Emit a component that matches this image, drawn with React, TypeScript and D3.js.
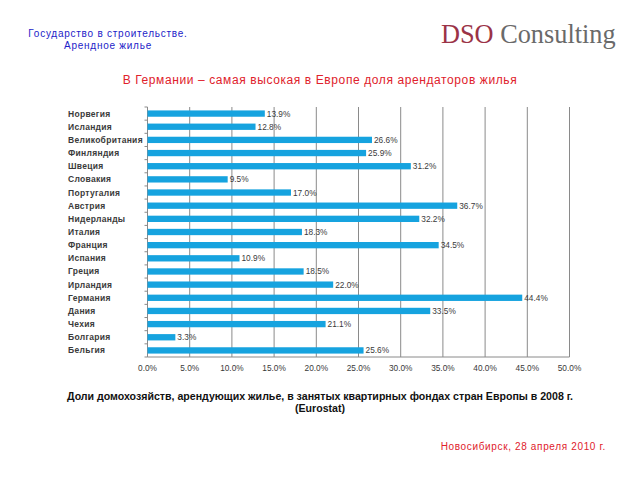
import React from "react";
import * as d3 from "d3";

const countries = [
  "Норвегия", "Исландия", "Великобритания", "Финляндия", "Швеция", "Словакия",
  "Португалия", "Австрия", "Нидерланды", "Италия", "Франция", "Испания",
  "Греция", "Ирландия", "Германия", "Дания", "Чехия", "Болгария", "Бельгия",
];
const values = [13.9, 12.8, 26.6, 25.9, 31.2, 9.5, 17.0, 36.7, 32.2, 18.3, 34.5, 10.9, 18.5, 22.0, 44.4, 33.5, 21.1, 3.3, 25.6];
const xTicks = [0, 5, 10, 15, 20, 25, 30, 35, 40, 45, 50];

const headerLines = ["Государство в строительстве.", "Арендное жилье"];
const title = "В Германии – самая высокая в Европе доля арендаторов жилья";
const captionLines = [
  "Доли домохозяйств, арендующих жилье, в занятых квартирных фондах стран Европы в 2008 г.",
  "(Eurostat)",
];
const footer = "Новосибирск, 28 апреля 2010 г.";

export default function App() {
  const W = 640, H = 480;
  const left = 147.5, right = 569.5, top = 107, bottom = 357;
  const x = d3.scaleLinear().domain([0, 50]).range([left, right]);
  const y = d3.scaleBand<string>().domain(countries).range([top, bottom]).paddingInner(0.52).paddingOuter(0.26);
  const band = d3.scaleBand<string>().domain(countries).range([top, bottom]);
  const font = "Liberation Sans, Arial, sans-serif";
  return (
    <svg width={W} height={H} style={{ position: "absolute", left: 0, top: 0, background: "#fff" }}>
      <g fontFamily={font} fill="#1c1cc8" fontSize={10} letterSpacing={0.75} textAnchor="middle">
        {headerLines.map((t, i) => (
          <text key={i} x={108} y={36.5 + i * 12}>{t}</text>
        ))}
      </g>
      <text x={441} y={43} fontFamily="Liberation Serif, Times New Roman, serif" fontSize={26.3}>
        <tspan fill="#9b3347">DSO</tspan>
        <tspan fill="#6a6a6a"> Consulting</tspan>
      </text>
      <text x={320} y={84} textAnchor="middle" fontFamily={font} fontSize={12} letterSpacing={0.6} fill="#e0212b">{title}</text>

      {/* gridlines */}
      {xTicks.slice(1).map((t) => (
        <line key={t} x1={x(t)} x2={x(t)} y1={top} y2={bottom} stroke="#8a8a8a" strokeWidth={1} />
      ))}
      {/* axes */}
      <line x1={left} x2={left} y1={top} y2={bottom} stroke="#8a8a8a" />
      <line x1={left} x2={right} y1={bottom} y2={bottom} stroke="#8a8a8a" />
      {countries.map((c) => (
        <line key={c} x1={left - 3} x2={left} y1={band(c)!} y2={band(c)!} stroke="#8a8a8a" />
      ))}
      <line x1={left - 3} x2={left} y1={bottom} y2={bottom} stroke="#8a8a8a" />

      {/* bars */}
      {countries.map((c, i) => (
        <rect key={c} x={x(0)} y={y(c)!} width={x(values[i]) - x(0)} height={y.bandwidth()} fill="#16a3df" />
      ))}
      {/* value labels */}
      <g fontFamily={font} fontSize={8.3} fill="#3a3a3a">
        {countries.map((c, i) => (
          <text key={c} x={x(values[i]) + 2} y={y(c)! + y.bandwidth() / 2 + 3}>{values[i].toFixed(1)}%</text>
        ))}
      </g>
      {/* category labels */}
      <g fontFamily={font} fontSize={8.5} letterSpacing={0.3} fontWeight="bold" fill="#3a3a3a">
        {countries.map((c) => (
          <text key={c} x={68} y={band(c)! + band.bandwidth() / 2 + 3}>{c}</text>
        ))}
      </g>
      {/* x tick labels */}
      <g fontFamily={font} fontSize={8.3} fill="#3a3a3a" textAnchor="middle">
        {xTicks.map((t) => (
          <text key={t} x={x(t)} y={371}>{t.toFixed(1)}%</text>
        ))}
      </g>

      <g fontFamily={font} fontSize={10.6} fontWeight="bold" fill="#111" textAnchor="middle">
        {captionLines.map((t, i) => (
          <text key={i} x={320} y={400 + i * 12}>{t}</text>
        ))}
      </g>
      <text x={606} y={449.5} textAnchor="end" fontFamily={font} fontSize={10} letterSpacing={0.65} fill="#e0212b">{footer}</text>
    </svg>
  );
}
